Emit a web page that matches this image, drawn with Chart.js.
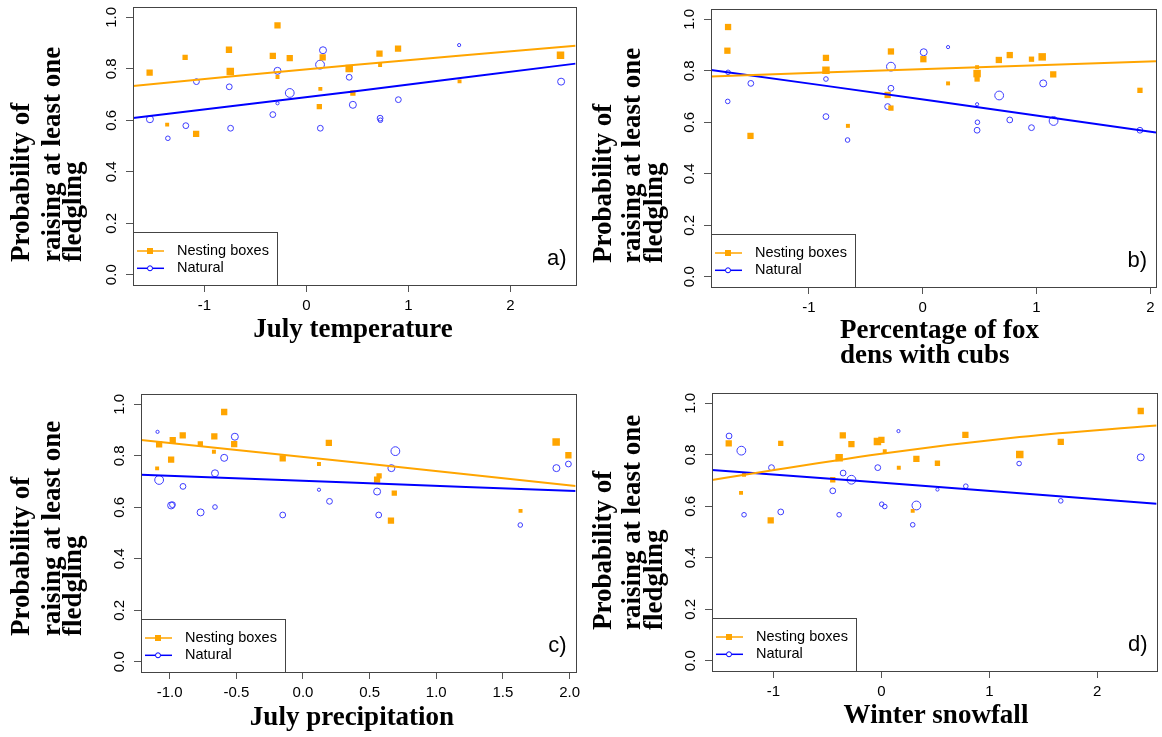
<!DOCTYPE html>
<html>
<head>
<meta charset="utf-8">
<script src="https://cdn.jsdelivr.net/npm/chart.js@4.4.1/dist/chart.umd.min.js"></script>
<style>
  body { margin: 0; background: #fff; }
  #page { position: relative; width: 1162px; height: 737px; overflow: hidden; background: #fff; }
  .panel { position: absolute; }
</style>
</head>
<body>
<div id="page">
  <div class="panel" style="left:0;top:0"><canvas id="chartA" width="581" height="368"></canvas></div>
  <div class="panel" style="left:581px;top:0"><canvas id="chartB" width="581" height="368"></canvas></div>
  <div class="panel" style="left:0;top:368px"><canvas id="chartC" width="581" height="369"></canvas></div>
  <div class="panel" style="left:581px;top:368px"><canvas id="chartD" width="581" height="369"></canvas></div>
</div>
<script>
// ---- data ----
// a) July temperature
let tempBoxX = [-1.537, -1.189, -1.365, -1.081, -0.759, -0.746, -0.283, -0.329, -0.283, -0.163, 0.160, 0.137, 0.127, 0.420, 0.456, 0.717, 0.723, 0.899, 1.502, 2.492];
let tempBoxY = [0.785, 0.844, 0.583, 0.547, 0.874, 0.789, 0.969, 0.850, 0.768, 0.841, 0.844, 0.722, 0.653, 0.801, 0.706, 0.859, 0.815, 0.878, 0.751, 0.853];
let tempBoxN = [4, 3, 2, 4, 4, 5, 4, 4, 2, 4, 4, 2, 3, 5, 3, 4, 2, 4, 2, 5];
let tempNatX = [-1.534, -1.358, -1.182, -1.078, -0.756, -0.743, -0.329, -0.283, -0.283, -0.163, 0.134, 0.163, 0.137, 0.420, 0.456, 0.723, 0.726, 0.902, 1.498, 2.498];
let tempNatY = [0.604, 0.530, 0.579, 0.750, 0.730, 0.569, 0.622, 0.666, 0.792, 0.706, 0.816, 0.872, 0.569, 0.767, 0.660, 0.608, 0.600, 0.680, 0.892, 0.750];
let tempNatN = [4, 2, 3, 3, 3, 3, 3, 1, 4, 5, 5, 4, 3, 3, 4, 3, 2, 3, 1, 4];
let tempBoxFitX = [-1.70, 0.46, 2.64];
let tempBoxFitY = [0.733, 0.815, 0.889];
let tempNatFitX = [-1.70, 0.46, 2.64];
let tempNatFitY = [0.609, 0.712, 0.820];

// b) Percentage of fox dens with cubs
let foxBoxX = [-1.710, -1.716, -1.513, -0.850, -0.850, -0.657, -0.279, -0.308, -0.279, 0.006, 0.223, 0.478, 0.478, 0.478, 0.669, 0.765, 0.956, 1.050, 1.147, 1.909];
let foxBoxY = [0.970, 0.878, 0.547, 0.850, 0.802, 0.586, 0.875, 0.706, 0.655, 0.845, 0.751, 0.814, 0.789, 0.768, 0.842, 0.861, 0.845, 0.854, 0.786, 0.724];
let foxBoxN = [4, 4, 4, 4, 5, 2, 4, 4, 3, 4, 2, 2, 5, 3, 4, 4, 3, 5, 4, 3];
let foxNatX = [-1.710, -1.713, -1.510, -0.850, -0.850, -0.660, -0.279, -0.279, -0.308, 0.009, 0.223, 0.478, 0.481, 0.478, 0.672, 0.765, 0.956, 1.059, 1.150, 1.909];
let foxNatY = [0.794, 0.681, 0.751, 0.768, 0.622, 0.531, 0.816, 0.732, 0.661, 0.872, 0.892, 0.670, 0.600, 0.569, 0.704, 0.609, 0.579, 0.751, 0.605, 0.569];
let foxNatN = [2, 2, 3, 2, 3, 2, 5, 3, 3, 4, 1, 1, 2, 3, 5, 3, 3, 4, 5, 3];
let foxBoxFitX = [-1.86, 0.10, 2.05];
let foxBoxFitY = [0.778, 0.808, 0.837];
let foxNatFitX = [-1.86, 0.10, 2.05];
let foxNatFitY = [0.803, 0.683, 0.560];

// c) July precipitation
let precBoxX = [-1.079, -1.094, -0.989, -0.977, -0.902, -0.770, -0.665, -0.668, -0.591, -0.516, -0.152, 0.194, 0.120, 0.556, 0.571, 0.685, 0.660, 1.632, 1.899, 1.991];
let precBoxY = [0.844, 0.751, 0.785, 0.861, 0.879, 0.846, 0.875, 0.816, 0.970, 0.845, 0.790, 0.850, 0.768, 0.707, 0.722, 0.655, 0.548, 0.586, 0.854, 0.802];
let precBoxN = [4, 2, 4, 4, 4, 3, 4, 2, 4, 4, 4, 4, 2, 4, 3, 3, 4, 2, 5, 4];
let precNatX = [-1.091, -1.079, -0.989, -0.979, -0.900, -0.768, -0.660, -0.660, -0.591, -0.511, -0.152, 0.120, 0.199, 0.556, 0.568, 0.663, 0.693, 1.630, 1.901, 1.991];
let precNatY = [0.893, 0.706, 0.607, 0.610, 0.681, 0.580, 0.732, 0.601, 0.792, 0.874, 0.570, 0.668, 0.623, 0.661, 0.570, 0.752, 0.818, 0.531, 0.752, 0.768];
let precNatN = [1, 5, 4, 3, 3, 4, 4, 2, 4, 4, 3, 1, 3, 4, 3, 4, 5, 2, 4, 3];
let precBoxFitX = [-1.215, 0.40, 2.045];
let precBoxFitY = [0.861, 0.774, 0.683];
let precNatFitX = [-1.215, 0.40, 2.045];
let precNatFitY = [0.726, 0.695, 0.663];

// d) Winter snowfall
let snowBoxX = [-1.415, -1.301, -1.273, -1.026, -0.933, -0.451, -0.392, -0.358, -0.278, -0.037, 0.000, 0.031, 0.161, 0.290, 0.324, 0.519, 0.778, 1.282, 1.662, 2.403];
let snowBoxY = [0.844, 0.652, 0.722, 0.545, 0.844, 0.703, 0.788, 0.875, 0.841, 0.852, 0.858, 0.814, 0.750, 0.582, 0.784, 0.767, 0.877, 0.801, 0.850, 0.970];
let snowBoxN = [4, 2, 2, 4, 3, 3, 5, 4, 4, 5, 4, 2, 2, 2, 4, 3, 4, 5, 4, 4];
let snowNatX = [-1.412, -1.298, -1.273, -1.019, -0.933, -0.451, -0.392, -0.355, -0.278, -0.034, 0.003, 0.031, 0.158, 0.290, 0.324, 0.519, 0.782, 1.276, 1.662, 2.403];
let snowNatY = [0.873, 0.816, 0.567, 0.750, 0.578, 0.660, 0.567, 0.729, 0.703, 0.750, 0.608, 0.599, 0.892, 0.528, 0.603, 0.665, 0.678, 0.766, 0.621, 0.790];
let snowNatN = [3, 5, 2, 3, 3, 3, 2, 3, 5, 3, 2, 2, 1, 2, 5, 1, 2, 2, 2, 4];
let snowBoxFitX = [-1.57, 0.00, 1.28, 2.55];
let snowBoxFitY = [0.702, 0.804, 0.869, 0.914];
let snowNatFitX = [-1.57, 0.50, 2.55];
let snowNatFitY = [0.741, 0.676, 0.610];

let legendLabels = ["Nesting boxes", "Natural"];
let yTitle = ["Probability of", "raising at least one", "fledgling"];

// ---- styling ----
const orange = "#FFA500";
const blue = "#0000FF";
const circleBlue = "#3c3cff";
const frameColor = "#444";
const sansFont = '"Liberation Sans", Arial, sans-serif';
const serifFont = '"Liberation Serif", "Times New Roman", serif';

function squareRadius(n) { return [0, 2.1, 2.8, 3.75, 4.45, 5.3][n]; }
function circleRadius(n) { return [0, 1.6, 2.3, 2.9, 3.5, 4.4][n]; }

function toPoints(xs, ys) {
    return xs.map(function (x, i) { return { x: x, y: ys[i] }; });
}

// draws frame, rotated y labels, titles, legend box and the panel letter
function decorPlugin(p) {
    return {
        id: "decor",
        afterDraw: function (chart) {
            let ctx = chart.ctx;
            let area = chart.chartArea;
            let yScale = chart.scales.y;
            ctx.save();

            // frame like R box()
            ctx.strokeStyle = frameColor;
            ctx.lineWidth = 1;
            ctx.strokeRect(Math.round(area.left) + 0.5, Math.round(area.top) + 0.5,
                Math.round(area.right - area.left), Math.round(area.bottom - area.top));

            // y tick labels, rotated like R las=0
            ctx.fillStyle = "#000";
            ctx.font = "15px " + sansFont;
            ctx.textAlign = "center";
            ctx.textBaseline = "middle";
            yScale.ticks.forEach(function (t) {
                let py = yScale.getPixelForValue(t.value);
                ctx.save();
                ctx.translate(area.left - 21, py);
                ctx.rotate(-Math.PI / 2);
                ctx.fillText(t.value.toFixed(1), 0, 0);
                ctx.restore();
            });

            // y title
            ctx.font = "bold 27px " + serifFont;
            ctx.textAlign = "left";
            ctx.textBaseline = "alphabetic";
            yTitle.forEach(function (line, i) {
                ctx.save();
                ctx.translate(p.yTitleX[i], p.yTitleStart);
                ctx.rotate(-Math.PI / 2);
                ctx.fillText(line, 0, 0);
                ctx.restore();
            });

            // x title
            ctx.textAlign = p.xTitleAlign;
            p.xTitle.forEach(function (line, i) {
                ctx.fillText(line, p.xTitleX, p.xTitleY[i]);
            });

            // legend box in the lower left corner
            let lx = area.left;
            let bottom = area.bottom;
            ctx.strokeStyle = frameColor;
            ctx.strokeRect(Math.round(lx) + 0.5, Math.round(bottom - 53) + 0.5, 144, 53);
            let rows = [bottom - 34, bottom - 16.7];
            ctx.lineWidth = 1.5;
            ctx.strokeStyle = orange;
            ctx.beginPath(); ctx.moveTo(lx + 4, rows[0]); ctx.lineTo(lx + 31, rows[0]); ctx.stroke();
            ctx.fillStyle = orange;
            ctx.fillRect(lx + 14, rows[0] - 3, 6, 6);
            ctx.strokeStyle = blue;
            ctx.beginPath(); ctx.moveTo(lx + 4, rows[1]); ctx.lineTo(lx + 31, rows[1]); ctx.stroke();
            ctx.lineWidth = 1;
            ctx.fillStyle = "#fff";
            ctx.beginPath(); ctx.arc(lx + 17, rows[1], 2.5, 0, 2 * Math.PI); ctx.fill(); ctx.stroke();
            ctx.fillStyle = "#000";
            ctx.font = "14.5px " + sansFont;
            ctx.textAlign = "left";
            ctx.textBaseline = "middle";
            legendLabels.forEach(function (label, i) {
                ctx.fillText(label, lx + 44, rows[i]);
            });

            // panel letter
            ctx.font = "22px " + sansFont;
            ctx.textAlign = "right";
            ctx.fillText(p.letter, area.right - 9, bottom - 26);

            ctx.restore();
        }
    };
}

function makePanel(canvasId, p) {
    let chart = new Chart(document.getElementById(canvasId), {
        type: "scatter",
        data: {
            datasets: [
                { data: toPoints(p.boxFitX, p.boxFitY), showLine: true, borderColor: orange, borderWidth: 2, pointRadius: 0, tension: 0.4 },
                { data: toPoints(p.natFitX, p.natFitY), showLine: true, borderColor: blue, borderWidth: 2, pointRadius: 0, tension: 0.4 },
                { data: toPoints(p.boxX, p.boxY), pointStyle: "rect", pointRadius: p.boxN.map(squareRadius),
                  backgroundColor: orange, borderColor: orange, borderWidth: 0 },
                { data: toPoints(p.natX, p.natY), pointStyle: "circle", pointRadius: p.natN.map(circleRadius),
                  backgroundColor: "rgba(0,0,0,0)", borderColor: circleBlue, borderWidth: 1 }
            ]
        },
        options: {
            responsive: false,
            animation: false,
            events: [],
            layout: { padding: { left: 0, top: p.padTop, right: p.padRight, bottom: 0 } },
            plugins: { legend: { display: false }, tooltip: { enabled: false } },
            scales: {
                x: {
                    type: "linear",
                    min: p.xMin, max: p.xMax,
                    border: { display: false },
                    grid: { drawOnChartArea: false, drawTicks: true, tickLength: 7, color: "#555" },
                    ticks: {
                        stepSize: p.xStep, includeBounds: false, padding: 5,
                        color: "#000", font: { family: sansFont, size: 15 },
                        maxRotation: 0,
                        callback: function (v) { return v.toFixed(p.xDigits); }
                    },
                    afterFit: function (s) { s.height = p.xHeight; s.paddingLeft = 0; s.paddingRight = 0; }
                },
                y: {
                    min: -0.04, max: 1.04,
                    border: { display: false },
                    grid: { drawOnChartArea: false, drawTicks: true, tickLength: 7, color: "#555" },
                    ticks: { stepSize: 0.2, includeBounds: false, display: false },
                    afterFit: function (s) { s.width = p.yWidth; s.paddingTop = 0; s.paddingBottom = 0; }
                }
            }
        },
        plugins: [decorPlugin(p)]
    });
    return chart;
}

makePanel("chartA", {
    boxX: tempBoxX, boxY: tempBoxY, boxN: tempBoxN, natX: tempNatX, natY: tempNatY, natN: tempNatN,
    boxFitX: tempBoxFitX, boxFitY: tempBoxFitY, natFitX: tempNatFitX, natFitY: tempNatFitY,
    xMin: -1.70, xMax: 2.64, xStep: 1, xDigits: 0,
    yWidth: 133, xHeight: 83, padTop: 7, padRight: 4,
    yTitleX: [29, 60, 81], yTitleStart: 262,
    xTitle: ["July temperature"], xTitleAlign: "center", xTitleX: 353, xTitleY: [337],
    letter: "a)"
});

makePanel("chartB", {
    boxX: foxBoxX, boxY: foxBoxY, boxN: foxBoxN, natX: foxNatX, natY: foxNatY, natN: foxNatN,
    boxFitX: foxBoxFitX, boxFitY: foxBoxFitY, natFitX: foxNatFitX, natFitY: foxNatFitY,
    xMin: -1.86, xMax: 2.05, xStep: 1, xDigits: 0,
    yWidth: 130, xHeight: 81, padTop: 9, padRight: 6,
    yTitleX: [30, 59, 81], yTitleStart: 263,
    xTitle: ["Percentage of fox", "dens with cubs"], xTitleAlign: "left", xTitleX: 259, xTitleY: [338, 363],
    letter: "b)"
});

makePanel("chartC", {
    boxX: precBoxX, boxY: precBoxY, boxN: precBoxN, natX: precNatX, natY: precNatY, natN: precNatN,
    boxFitX: precBoxFitX, boxFitY: precBoxFitY, natFitX: precNatFitX, natFitY: precNatFitY,
    xMin: -1.215, xMax: 2.045, xStep: 0.5, xDigits: 1,
    yWidth: 141, xHeight: 65, padTop: 26, padRight: 1,
    yTitleX: [29, 60, 81], yTitleStart: 268,
    xTitle: ["July precipitation"], xTitleAlign: "center", xTitleX: 352, xTitleY: [357],
    letter: "c)"
});

makePanel("chartD", {
    boxX: snowBoxX, boxY: snowBoxY, boxN: snowBoxN, natX: snowNatX, natY: snowNatY, natN: snowNatN,
    boxFitX: snowBoxFitX, boxFitY: snowBoxFitY, natFitX: snowNatFitX, natFitY: snowNatFitY,
    xMin: -1.57, xMax: 2.55, xStep: 1, xDigits: 0,
    yWidth: 131, xHeight: 66, padTop: 25, padRight: 5,
    yTitleX: [30, 59, 81], yTitleStart: 262,
    xTitle: ["Winter snowfall"], xTitleAlign: "center", xTitleX: 355, xTitleY: [355],
    letter: "d)"
});
</script>
</body>
</html>
